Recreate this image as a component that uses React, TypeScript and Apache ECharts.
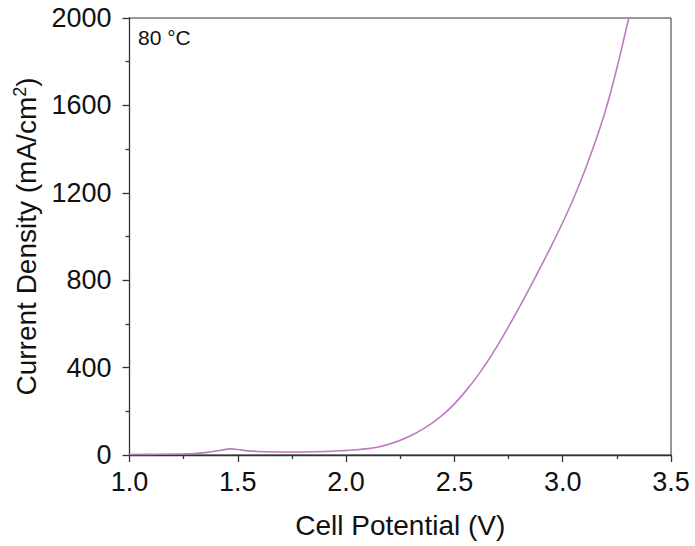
import React, { useEffect, useRef } from "react";
import * as echarts from "echarts";

const potential = [1.0, 1.1, 1.2, 1.3, 1.35, 1.4, 1.45, 1.47, 1.5, 1.55, 1.6, 1.7, 1.8, 1.9, 2.0, 2.05, 2.1, 2.15, 2.2, 2.25, 2.3, 2.35, 2.4, 2.45, 2.5, 2.55, 2.6, 2.65, 2.7, 2.75, 2.8, 2.85, 2.9, 2.95, 3.0, 3.05, 3.1, 3.15, 3.2, 3.25, 3.3, 3.306];
const currentDensity = [2, 3, 4, 7, 11, 18, 27, 28, 25, 19, 16, 14, 14, 16, 21, 24, 29, 37, 50, 67, 89, 116, 148, 187, 234, 290, 353, 424, 503, 588, 677, 769, 864, 962, 1064, 1174, 1296, 1432, 1585, 1770, 1978, 2000];
const xTicks = { min: 1.0, max: 3.5, interval: 0.5 };
const yTicks = { min: 0, max: 2000, interval: 400 };
const annotation = "80 °C";

export default function App() {
  const ref = useRef<HTMLDivElement>(null);
  useEffect(() => {
    if (!ref.current) return;
    const chart = echarts.init(ref.current, undefined, { renderer: "svg" });
    const font = "Liberation Sans, Arial, sans-serif";
    chart.setOption({
      animation: false,
      grid: {
        left: 129.5,
        right: 24,
        top: 18,
        bottom: 91,
        show: true,
        borderColor: "#333",
        borderWidth: 1,
        backgroundColor: "transparent",
      },
      xAxis: {
        type: "value",
        min: xTicks.min,
        max: xTicks.max,
        interval: xTicks.interval,
        name: "Cell Potential (V)",
        nameLocation: "middle",
        nameGap: 56,
        nameTextStyle: { fontFamily: font, fontSize: 28, color: "#111" },
        axisLine: { show: true, lineStyle: { color: "#333", width: 1.3 } },
        axisTick: { show: true, inside: false, length: 7, lineStyle: { color: "#333", width: 1.3 } },
        minorTick: { show: true, splitNumber: 2, length: 4, lineStyle: { color: "#333", width: 1.3 } },
        splitLine: { show: false },
        axisLabel: {
          fontFamily: font,
          fontSize: 27,
          color: "#111",
          margin: 13,
          formatter: (v: number) => v.toFixed(1),
        },
      },
      yAxis: {
        type: "value",
        min: yTicks.min,
        max: yTicks.max,
        interval: yTicks.interval,
        name: "Current Density (mA/cm{sup|2})",
        nameLocation: "middle",
        nameGap: 82,
        nameTextStyle: {
          fontFamily: font,
          fontSize: 28,
          color: "#111",
          rich: {
            sup: { fontFamily: font, fontSize: 18, color: "#111", padding: [0, 0, 14, 0] },
          },
        },
        axisLine: { show: true, lineStyle: { color: "#333", width: 1.3 } },
        axisTick: { show: true, inside: false, length: 7, lineStyle: { color: "#333", width: 1.3 } },
        minorTick: { show: true, splitNumber: 2, length: 4, lineStyle: { color: "#333", width: 1.3 } },
        splitLine: { show: false },
        axisLabel: {
          fontFamily: font,
          fontSize: 27,
          color: "#111",
          margin: 18,
          formatter: (v: number) => String(v),
        },
      },
      graphic: [
        {
          type: "text",
          left: 138,
          top: 27,
          style: { text: annotation, fontFamily: font, fontSize: 21, fill: "#111" },
        },
      ],
      series: [
        {
          type: "line",
          data: potential.map((v, i) => [v, currentDensity[i]]),
          smooth: 0.4,
          showSymbol: false,
          lineStyle: { color: "#bb7bc0", width: 1.6 },
          clip: true,
        },
      ],
    });
    return () => chart.dispose();
  }, []);
  return <div ref={ref} style={{ width: 695, height: 546, position: "absolute", left: 0, top: 0, background: "#fff" }} />;
}
